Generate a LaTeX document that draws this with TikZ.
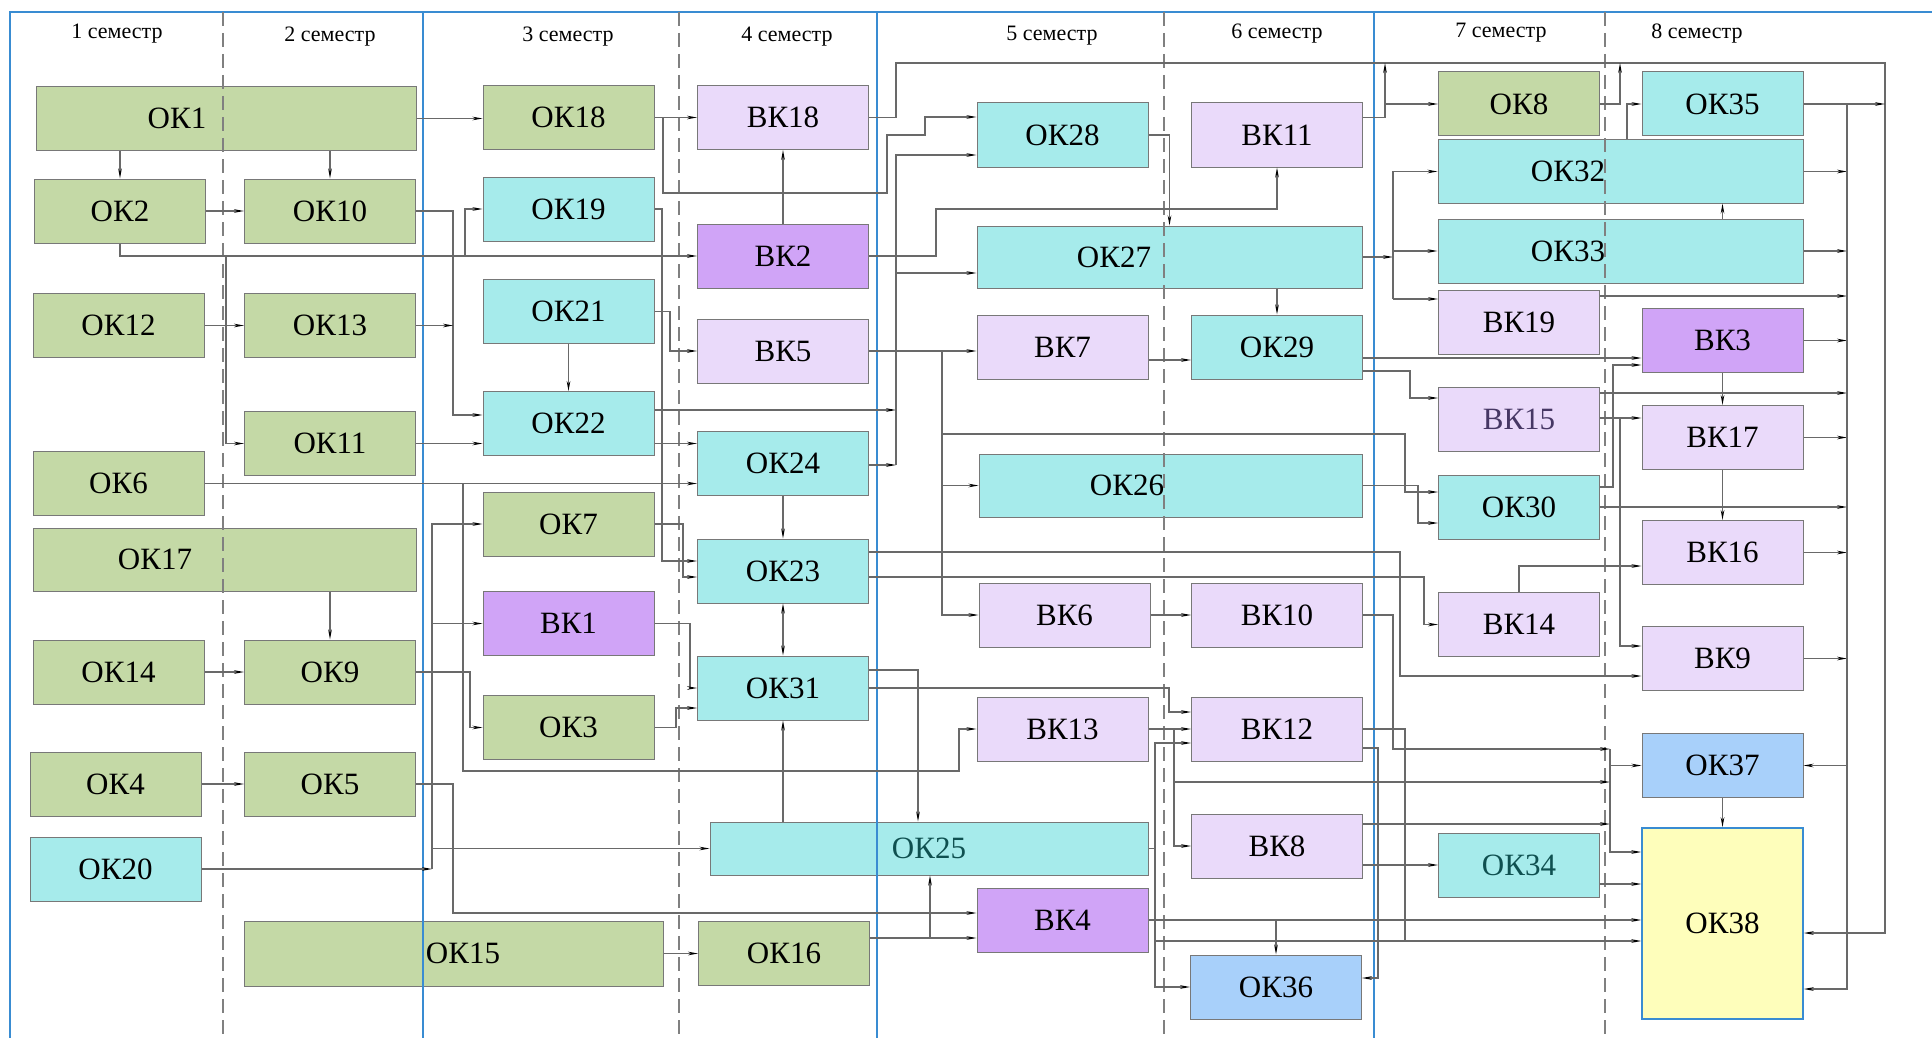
\documentclass[tikz,border=0pt]{standalone}
\usepackage{fontspec}
\setmainfont{Liberation Serif}
\usetikzlibrary{arrows.meta}
\definecolor{okgreen}{RGB}{196,217,166}
\definecolor{okcyan}{RGB}{166,235,235}
\definecolor{vklight}{RGB}{234,218,250}
\definecolor{vkdark}{RGB}{208,164,247}
\definecolor{okblue}{RGB}{168,208,250}
\definecolor{okyellow}{RGB}{254,254,187}
\definecolor{frameblue}{RGB}{57,140,210}
\definecolor{boxgray}{RGB}{120,120,120}
\definecolor{wiregray}{RGB}{105,105,105}
\definecolor{tealtext}{RGB}{15,80,80}
\definecolor{vktext}{RGB}{70,55,100}
\tikzset{
  box/.style={draw=boxgray, line width=1pt, inner sep=0pt, font=\fontsize{31}{36}\selectfont},
  std/.style={minimum width=171pt, minimum height=64pt},
  std8/.style={minimum width=161pt, minimum height=64pt},
  okg/.style={box, fill=okgreen},
  okc/.style={box, fill=okcyan},
  vkl/.style={box, fill=vklight},
  vkd/.style={box, fill=vkdark},
  okb/.style={box, fill=okblue},
  lbl/.style={font=\fontsize{31}{36}\selectfont, inner sep=0pt},
  sem/.style={font=\fontsize{22}{26}\selectfont, inner sep=0pt},
  wire/.style={draw=wiregray, line width=1.2pt, ->},
  bus/.style={draw=wiregray, line width=1.2pt},
  rim/.style={draw=frameblue, line width=2pt},
  semline/.style={draw=gray, line width=1.2pt, dash pattern=on 14pt off 7pt}
}

\begin{document}
\begin{tikzpicture}[x=1pt, y=-1pt, >={Stealth[length=10pt, width=3.6pt, color=black]}]
    \useasboundingbox (0,0) rectangle (1932,1038);

    % 1-2 semester
    \node[okg, minimum width=380pt, minimum height=63pt] (ok1) at (226,118.5) {};
    \node[lbl] (ok1t) at (177,118.5) {ОК1};
    \node[okg, std] (ok2) at (120,211) {ОК2};
    \node[okg, std] (ok10) at (330,211) {ОК10};
    \node[okg, std] (ok12) at (118.5,325.5) {ОК12};
    \node[okg, std] (ok13) at (330,325.5) {ОК13};
    \node[okg, std] (ok11) at (330,443.5) {ОК11};
    \node[okg, std] (ok6) at (118.5,483.5) {ОК6};
    \node[okg, minimum width=383pt, minimum height=63pt] (ok17) at (224.5,559.5) {};
    \node[lbl] (ok17t) at (155,559.5) {ОК17};
    \node[okg, std] (ok14) at (118.5,672) {ОК14};
    \node[okg, std] (ok9) at (330,672) {ОК9};
    \node[okg, std] (ok4) at (115.5,784) {ОК4};
    \node[okg, std] (ok5) at (330,784) {ОК5};
    \node[okc, std] (ok20) at (115.5,869) {ОК20};
    \node[okg, minimum width=419pt, minimum height=65pt] (ok15) at (453.5,953.5) {};
    \node[lbl] (ok15t) at (463,953.5) {ОК15};

    % 3-4 semester
    \node[okg, std] (ok18) at (568.5,117.5) {ОК18};
    \node[okc, std] (ok19) at (568.5,209) {ОК19};
    \node[okc, std] (ok21) at (568.5,311.5) {ОК21};
    \node[okc, std] (ok22) at (568.5,423.5) {ОК22};
    \node[okg, std] (ok7) at (568.5,524) {ОК7};
    \node[vkd, std] (bk1) at (568.5,623.5) {ВК1};
    \node[okg, std] (ok3) at (568.5,727.5) {ОК3};
    \node[vkl, std] (bk18) at (783,117.5) {ВК18};
    \node[vkd, std] (bk2) at (783,256) {ВК2};
    \node[vkl, std] (bk5) at (783,351) {ВК5};
    \node[okc, std] (ok24) at (783,463) {ОК24};
    \node[okc, std] (ok23) at (783,571) {ОК23};
    \node[okc, std] (ok31) at (783,688) {ОК31};
    \node[okg, std] (ok16) at (784,953.5) {ОК16};
    \node[okc, minimum width=438pt, minimum height=53pt, text=tealtext] (ok25) at (929,848.5) {ОК25};

    % 5-6 semester
    \node[okc, std] (ok28) at (1062.5,135) {ОК28};
    \node[vkl, std] (bk11) at (1277,135) {ВК11};
    \node[okc, minimum width=385pt, minimum height=62pt] (ok27) at (1169.5,257) {};
    \node[lbl] (ok27t) at (1114,257) {ОК27};
    \node[vkl, std] (bk7) at (1062.5,347) {ВК7};
    \node[okc, std] (ok29) at (1277,347) {ОК29};
    \node[okc, minimum width=383pt, minimum height=63pt] (ok26) at (1170.5,485.5) {};
    \node[lbl] (ok26t) at (1127,485.5) {ОК26};
    \node[vkl, std] (bk6) at (1064.5,615) {ВК6};
    \node[vkl, std] (bk10) at (1277,615) {ВК10};
    \node[vkl, std] (bk13) at (1062.5,729) {ВК13};
    \node[vkl, std] (bk12) at (1277,729) {ВК12};
    \node[vkl, std] (bk8) at (1277,846) {ВК8};
    \node[vkd, std] (bk4) at (1062.5,920) {ВК4};
    \node[okb, std] (ok36) at (1276,987) {ОК36};

    % 7-8 semester
    \node[okg, std8] (ok8) at (1519,104) {ОК8};
    \node[okc, std8] (ok35) at (1722.5,104) {ОК35};
    \node[okc, minimum width=365pt, minimum height=63pt] (ok32) at (1620.5,171.5) {};
    \node[lbl] (ok32t) at (1568,171.5) {ОК32};
    \node[okc, minimum width=365pt, minimum height=64pt] (ok33) at (1620.5,251) {};
    \node[lbl] (ok33t) at (1568,251) {ОК33};
    \node[vkl, std8] (bk19) at (1519,322.5) {ВК19};
    \node[vkd, std8] (bk3) at (1722.5,340.5) {ВК3};
    \node[vkl, std8, text=vktext] (bk15) at (1519,419.5) {ВК15};
    \node[vkl, std8] (bk17) at (1722.5,437.5) {ВК17};
    \node[okc, std8] (ok30) at (1519,507) {ОК30};
    \node[vkl, std8] (bk16) at (1722.5,552.5) {ВК16};
    \node[vkl, std8] (bk14) at (1519,624.5) {ВК14};
    \node[vkl, std8] (bk9) at (1722.5,658.5) {ВК9};
    \node[okb, std8] (ok37) at (1722.5,765.5) {ОК37};
    \node[okc, std8, text=tealtext] (ok34) at (1519,865) {ОК34};
    \node[box, fill=okyellow, draw=frameblue, line width=1.5pt, minimum width=161pt, minimum height=191pt] (ok38) at (1722.5,923.5) {ОК38};

    % frame and semester borders
    \draw[rim] (10,1038) -- (10,12) -- (1932,12);
    \foreach \x in {423,877,1374}
        \draw[rim] (\x,12) -- (\x,1038);
    \foreach \x in {223,679,1164,1605}
        \draw[semline] (\x,12) -- (\x,1038);

    \node[sem] (s1) at (117,34) {1 семестр};
    \node[sem] (s2) at (330,37) {2 семестр};
    \node[sem] (s3) at (568,37) {3 семестр};
    \node[sem] (s4) at (787,37) {4 семестр};
    \node[sem] (s5) at (1052,36) {5 семестр};
    \node[sem] (s6) at (1277,34) {6 семестр};
    \node[sem] (s7) at (1501,33) {7 семестр};
    \node[sem] (s8) at (1697,34) {8 семестр};

    % junctions and buses
    \coordinate (j1) at (226,256);
    \coordinate (j2) at (465,256);
    \coordinate (j3) at (663,117.5);
    \coordinate (j4) at (463,483.5);
    \coordinate (j5) at (930,938);
    \coordinate (j6) at (1385,104);
    \coordinate (j7) at (1620,418);
    \coordinate (j8) at (1174,729);
    \coordinate (j9) at (1174,782);
    \coordinate (j10) at (1276,920);
    \coordinate (j11) at (1155,848.5);
    \coordinate (j12) at (942,351);
    \coordinate (b1) at (432,869);
    \coordinate (b2) at (896,465);
    \coordinate (b3) at (896,273);
    \coordinate (b4) at (1610,749);
    \coordinate (b5) at (1393,299);
    \coordinate (t1) at (896,63);
    \coordinate (t2) at (1885,63);
    \coordinate (t3) at (1385,63);
    \coordinate (t4) at (1620,63);
    \coordinate (xq) at (1627,0);
    \coordinate (xr) at (1847,0);

    % 1-2 semester links
    \draw[wire] (ok1.south -| ok2.north) -- (ok2.north);
    \draw[wire] (ok1.south -| ok10.north) -- (ok10.north);
    \draw[wire] (ok1.east) -- (ok1.east -| ok18.west);
    \draw[wire] (ok2.east) -- (ok10.west);
    \draw[wire] (ok2.south) |- (bk2.west);
    \draw[wire] (j1) |- (ok11.west);
    \draw[wire] (j2) |- (ok19.west);
    \draw[wire] (ok12.east) -- (ok13.west);
    \draw[wire] (ok10.east) -| (453,415) -- ([yshift=8.5pt]ok22.west);
    \draw[wire] (ok13.east) -- (453,325.5);
    \draw[wire] (ok11.east) -- (ok11.east -| ok22.west);
    \draw[wire] (ok6.east) -- (ok6.east -| ok24.west);
    \draw[wire] (j4) |- (959,771) |- (bk13.west);
    \draw[wire] (ok17.south -| ok9.north) -- (ok9.north);
    \draw[wire] (ok14.east) -- (ok9.west);
    \draw[wire] (ok9.east) -| (470,727.5) -- (ok3.west);
    \draw[wire] (ok20.east) -- (b1);
    \draw[wire] (b1) |- (ok7.west);
    \draw[wire] (b1 |- bk1.west) -- (bk1.west);
    \draw[wire] (b1 |- ok25.west) -- (ok25.west);
    \draw[wire] (ok4.east) -- (ok5.west);
    \draw[wire] (ok5.east) -| (453,913) -- ([yshift=7pt]bk4.west);
    \draw[wire] (ok15.east) -- (ok16.west);

    % 3-4 semester links
    \draw[wire] (ok18.east) -- (bk18.west);
    \draw[wire] (j3) |- (887,193) |- (925,135) |- ([yshift=18pt]ok28.west);
    \draw[wire] (ok19.east) -| (662,561) -- ([yshift=10pt]ok23.west);
    \draw[wire] (ok21.east) -| (670,351) -- (bk5.west);
    \draw[wire] (ok21.south) -- (ok22.north);
    \draw[wire] ([yshift=-20pt]ok22.east) -- ([yshift=19.5pt]ok24.west);
    \draw[wire] (ok7.east) -| (683,577) -- ([yshift=-6pt]ok23.west);
    \draw[wire] (bk1.east) -| (690,688) -- (ok31.west);
    \draw[wire] (ok3.east) -| (676,708) -- ([yshift=-20pt]ok31.west);
    \draw[wire] (bk2.north) -- (bk18.south);
    \draw[wire] (ok24.south) -- (ok23.north);
    \draw[wire, <->] (ok23.south) -- (ok31.north);
    \draw[wire] (ok25.north -| ok31.south) -- (ok31.south);
    \draw[wire] ([yshift=15.5pt]ok16.east) -- ([yshift=-18pt]bk4.west);
    \draw[wire] (j5) -- (j5 |- ok25.south);
    \draw[wire] (bk18.east) -| (t1) -- (t2) |- ([yshift=-9.5pt]ok38.east);
    \draw[wire] (bk2.east) -| (936,209) -| (bk11.south);
    \draw[wire] (bk5.east) -- (bk5.east -| bk7.west);
    \draw[wire] (j12) |- (ok26.west);
    \draw[wire] (j12) |- (bk6.west);
    \draw[wire] (j12) |- (1405,434) |- ([yshift=15pt]ok30.west);
    \draw[wire] ([yshift=13.5pt]ok22.east) -- (896,410);
    \draw[wire] ([yshift=-2pt]ok24.east) -- (b2);
    \draw[wire] (b2) |- ([yshift=-20pt]ok28.west);
    \draw[wire] (b3) -- ([yshift=-16pt]ok27.west);
    \draw[wire] ([yshift=18pt]ok31.east) -| ([xshift=-11pt]ok25.north);
    \draw[wire] (ok31.east) -| (1169,712) -- ([yshift=17pt]bk12.west);
    \draw[wire] ([yshift=19pt]ok23.east) -| (1400,676) -- ([yshift=-17.5pt]bk9.west);
    \draw[wire] ([yshift=-6pt]ok23.east) -| (1424,624.5) -- (bk14.west);

    % 5-6 semester links
    \draw[wire] (ok28.east) -| (ok27.north);
    \draw[wire] (ok27.south -| ok29.north) -- (ok29.north);
    \draw[wire] ([yshift=-13pt]bk7.east) -- ([yshift=-13pt]ok29.west);
    \draw[wire] (bk6.east) -- (bk10.west);
    \draw[wire] (bk13.east) -- (bk12.west);
    \draw[wire] (j8) |- (bk8.west);
    \draw[wire] (j9) -- (b4 |- j9);
    \draw[wire] (bk10.east) -| (1393,749) -- (b4);
    \draw[wire] ([yshift=22pt]bk8.east) -- (1610,824);
    \draw[wire] ([yshift=-19pt]bk8.east) -- (ok34.west);
    \draw[wire] ([yshift=-19pt]bk12.east) -| (1378,978) -- ([yshift=9pt]ok36.east);
    \draw[bus] (bk12.east) -| (1405,941);
    \draw[bus] (ok25.east) -- (j11);
    \draw[wire] (j11) |- ([yshift=-14pt]bk12.west);
    \draw[wire] (j11) |- (ok36.west);
    \draw[wire] (j11) |- ([yshift=-17.5pt]ok38.west);
    \draw[wire] (bk4.east) -- ([yshift=3.5pt]ok38.west);
    \draw[wire] (j10) -- (j10 |- ok36.north);
    \draw[wire] ([yshift=17.5pt]bk11.east) -| (t3);
    \draw[wire] (j6) -- (ok8.west);
    \draw[wire] (ok27.east) -- (ok27.east -| b5);
    \draw[wire] (b5) |- (ok32.west);
    \draw[wire] (b5 |- ok33.west) -- (ok33.west);
    \draw[wire] (b5) -- (b5 -| bk19.west);
    \draw[wire] ([yshift=-11pt]ok29.east) -- ([yshift=-17.5pt]bk3.west);
    \draw[wire] ([yshift=-24pt]ok29.east) -| (1410,398) -- ([yshift=21.5pt]bk15.west);
    \draw[wire] (ok26.east) -| (1418,523) -- ([yshift=-16pt]ok30.west);

    % 7-8 semester links
    \draw[wire] (ok8.east) -| (t4);
    \draw[wire] (ok35.east) -- (ok35.east -| t2);
    \draw[wire] (ok32.north -| xq) |- (ok35.west);
    \draw[wire] (ok33.north -| bk3.north) -- (ok32.south -| bk3.north);
    \draw[wire] (bk3.south) -- (bk17.north);
    \draw[wire] (bk17.south) -- (bk16.north);
    \draw[wire] (ok37.south) -- (ok38.north);
    \draw[wire] ([yshift=1.5pt]bk15.east) -- ([yshift=19.5pt]bk17.west);
    \draw[wire] (j7) |- ([yshift=12.5pt]bk9.west);
    \draw[wire] ([yshift=20pt]ok30.east) -| (1613,365) -- ([yshift=-24.5pt]bk3.west);
    \draw[wire] (bk14.north) |- ([yshift=-13.5pt]bk16.west);
    \draw[wire] (b4) |- ([yshift=71.5pt]ok38.west);
    \draw[wire] (b4 |- ok37.west) -- (ok37.west);
    \draw[wire] ([yshift=-19pt]ok34.east) -- ([yshift=39.5pt]ok38.west);
    \draw[wire] (ok32.east) -- (ok32.east -| xr);
    \draw[wire] (ok33.east) -- (ok33.east -| xr);
    \draw[wire] ([yshift=26.5pt]bk19.east) -- (1847,296);
    \draw[wire] (bk3.east) -- (bk3.east -| xr);
    \draw[wire] ([yshift=26.5pt]bk15.east) -- (1847,393);
    \draw[wire] (bk17.east) -- (bk17.east -| xr);
    \draw[wire] (ok30.east) -- (ok30.east -| xr);
    \draw[wire] (bk16.east) -- (bk16.east -| xr);
    \draw[wire] (bk9.east) -- (bk9.east -| xr);
    \draw[wire] (ok35.east -| xr) |- (ok37.east);
    \draw[wire] (xr |- ok37.east) |- ([yshift=-65.5pt]ok38.east);
\end{tikzpicture}
\end{document}
